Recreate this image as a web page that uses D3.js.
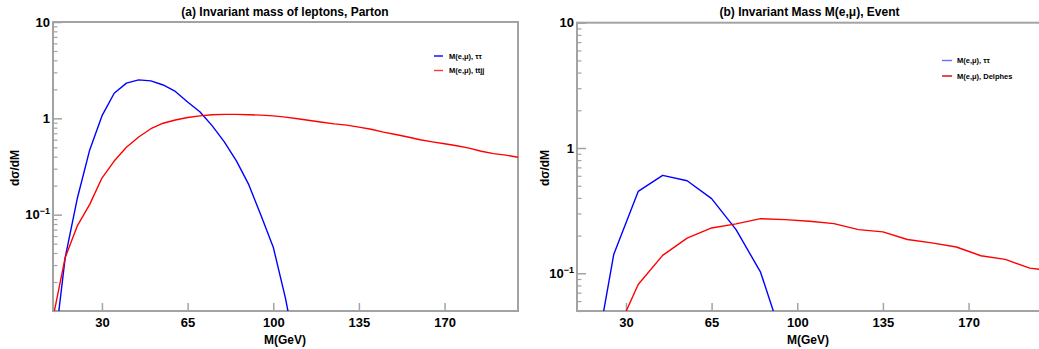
<!DOCTYPE html>
<html>
<head>
<meta charset="utf-8">
<script src="https://cdn.jsdelivr.net/npm/d3@7"></script>
<style>
  html, body { margin: 0; padding: 0; background: #fff; }
  svg { display: block; font-family: "Liberation Sans", Arial, sans-serif; }
  .tick text { font-weight: bold; }
</style>
</head>
<body>
<svg id="chart" width="1039" height="349"></svg>
<script>
// ---------------- DATA ----------------
const xTicks = [30, 65, 100, 135, 170];

// Panel (a): parton level
const massPartonTau = [10,15,20,25,30,35,40,45,50,55,60,65,70,75,80,85,90,95,100,105,110];
const partonTau = [0.0031,0.036,0.15,0.47,1.06,1.82,2.32,2.51,2.45,2.22,1.90,1.48,1.17,0.84,0.57,0.36,0.205,0.098,0.046,0.0135,0.003];

const massPartonTtjj = [10,15,20,25,30,35,40,45,50,55,60,65,70,75,80,85,90,95,100,105,110,115,120,125,130,135,140,145,150,155,160,165,170,175,180,185,190,195,200];
const partonTtjj = [0.0085,0.036,0.077,0.128,0.24,0.36,0.50,0.64,0.78,0.89,0.96,1.02,1.06,1.09,1.10,1.10,1.09,1.08,1.06,1.03,0.99,0.95,0.91,0.875,0.85,0.81,0.77,0.72,0.68,0.64,0.60,0.57,0.545,0.52,0.49,0.455,0.43,0.415,0.395];

// Panel (b): event level
const massEventTau = [15,25,35,45,55,65,75,85,95];
const eventTau = [0.0112,0.141,0.450,0.604,0.548,0.394,0.223,0.102,0.026];

const massEventDelphes = [25,35,45,55,65,75,85,95,105,115,125,135,145,155,165,175,185,195,205];
const eventDelphes = [0.030,0.0813,0.139,0.191,0.230,0.248,0.273,0.268,0.260,0.249,0.223,0.214,0.186,0.175,0.162,0.138,0.129,0.110,0.104];

const yMajorA = [0.1, 1, 10];
const yMajorB = [0.1, 1, 10];

// ---------------- LAYOUT ----------------
const svg = d3.select("#chart");
const frameColor = "#a3a3a3";

const panels = [
  {
    id: "a",
    title: "(a) Invariant mass of leptons, Parton",
    x0: 53, x1: 518, y0: 22, y1: 311,
    yDomain: [0.01, 10],
    yMajor: yMajorA,
    series: [
      { x: massPartonTau, y: partonTau, color: "#0000ff", label: "M(e,\u03bc), \u03c4\u03c4", legColor: "#0000ff" },
      { x: massPartonTtjj, y: partonTtjj, color: "#ff0000", label: "M(e,\u03bc), ttjj", legColor: "#ff3333" }
    ],
    legend: { x: 434, y: 56, dy: 14.5, lineW: 9, textX: 449 },
    ylabX: 15
  },
  {
    id: "b",
    title: "(b) Invariant Mass M(e,\u03bc), Event",
    x0: 577, x1: 1042, y0: 22.7, y1: 311,
    yDomain: [0.05, 10],
    yMajor: yMajorB,
    series: [
      { x: massEventTau, y: eventTau, color: "#0000ff", label: "M(e,\u03bc), \u03c4\u03c4", legColor: "#6f6fff" },
      { x: massEventDelphes, y: eventDelphes, color: "#ff0000", label: "M(e,\u03bc), Delphes", legColor: "#dd0000" }
    ],
    legend: { x: 942, y: 60.5, dy: 15.5, lineW: 10, textX: 957 },
    ylabX: 545
  }
];

panels.forEach(p => {
  const x = d3.scaleLinear().domain([10, 200]).range([p.x0, p.x1]);
  const y = d3.scaleLog().domain(p.yDomain).range([p.y1, p.y0]);
  const g = svg.append("g");

  // clip
  svg.append("clipPath").attr("id", "clip-" + p.id)
    .append("rect").attr("x", p.x0).attr("y", p.y0)
    .attr("width", p.x1 - p.x0).attr("height", p.y1 - p.y0);

  // minor y ticks
  const minor = [];
  const lo = Math.floor(Math.log10(p.yDomain[0]));
  const hi = Math.ceil(Math.log10(p.yDomain[1]));
  for (let e = lo; e < hi; e++) {
    for (let k = 2; k <= 9; k++) {
      const v = k * Math.pow(10, e);
      if (v >= p.yDomain[0] && v <= p.yDomain[1]) minor.push(v);
    }
  }
  const minorAxis = d3.axisLeft(y).tickValues(minor).tickSize(-4.5).tickFormat("");
  const gMinor = g.append("g").attr("transform", `translate(${p.x0},0)`).call(minorAxis);
  gMinor.select(".domain").remove();
  gMinor.selectAll("line").attr("stroke", frameColor).attr("stroke-width", 1.2);

  const majorAxis = d3.axisLeft(y).tickValues(p.yMajor).tickSize(-9).tickPadding(3)
    .tickFormat(d => d === 0.1 ? "" : d3.format("d")(d));
  const gMajor = g.append("g").attr("transform", `translate(${p.x0},0)`).call(majorAxis);
  gMajor.select(".domain").remove();
  gMajor.selectAll("line").attr("stroke", frameColor).attr("stroke-width", 1.5);
  gMajor.selectAll("text").attr("font-size", 13).attr("fill", "#000");
  // 10^-1 label with superscript
  gMajor.selectAll(".tick").filter(d => d === 0.1).select("text")
    .each(function() {
      const t = d3.select(this);
      t.append("tspan").text("10");
      t.append("tspan").attr("font-size", 9).attr("dy", -5).text("\u22121");
    })
    .attr("dy", "0.32em");

  // x axis
  const xAxis = d3.axisBottom(x).tickValues(xTicks).tickSize(-8).tickPadding(7);
  const gx = g.append("g").attr("transform", `translate(0,${p.y1})`).call(xAxis);
  gx.select(".domain").remove();
  gx.selectAll("line").attr("stroke", frameColor).attr("stroke-width", 1.5);
  gx.selectAll("text").attr("font-size", 13).attr("fill", "#000");

  // frame
  g.append("rect").attr("x", p.x0).attr("y", p.y0)
    .attr("width", p.x1 - p.x0).attr("height", p.y1 - p.y0)
    .attr("fill", "none").attr("stroke", frameColor).attr("stroke-width", 2);

  // lines
  const line = d3.line().x(d => x(d[0])).y(d => y(d[1]));
  p.series.forEach(s => {
    const pts = s.x.map((m, i) => [m, s.y[i]]);
    g.append("path").datum(pts)
      .attr("clip-path", `url(#clip-${p.id})`)
      .attr("d", line)
      .attr("fill", "none")
      .attr("stroke", s.color)
      .attr("stroke-width", 1.4)
      .attr("stroke-linejoin", "round");
  });

  // legend
  p.series.forEach((s, i) => {
    const ly = p.legend.y + i * p.legend.dy;
    g.append("line").attr("x1", p.legend.x).attr("x2", p.legend.x + p.legend.lineW)
      .attr("y1", ly).attr("y2", ly).attr("stroke", s.legColor).attr("stroke-width", 1.4);
    g.append("text").attr("x", p.legend.textX).attr("y", ly + 2.5)
      .attr("font-size", 7.5).attr("font-weight", "bold").text(s.label);
  });

  // title
  svg.append("text").attr("x", (p.id === "a") ? 285 : 809.5).attr("y", 16)
    .attr("text-anchor", "middle").attr("font-size", 12).attr("font-weight", "bold")
    .text(p.title);

  // x label
  svg.append("text").attr("x", (p.id === "a") ? 285 : 808).attr("y", 344)
    .attr("text-anchor", "middle").attr("font-size", 12).attr("font-weight", "bold")
    .text("M(GeV)");

  // y label
  svg.append("text")
    .attr("transform", `translate(${p.ylabX + 4},168) rotate(-90)`)
    .attr("text-anchor", "middle").attr("font-size", 12).attr("font-weight", "bold")
    .text("d\u03c3/dM");
});
</script>
</body>
</html>
